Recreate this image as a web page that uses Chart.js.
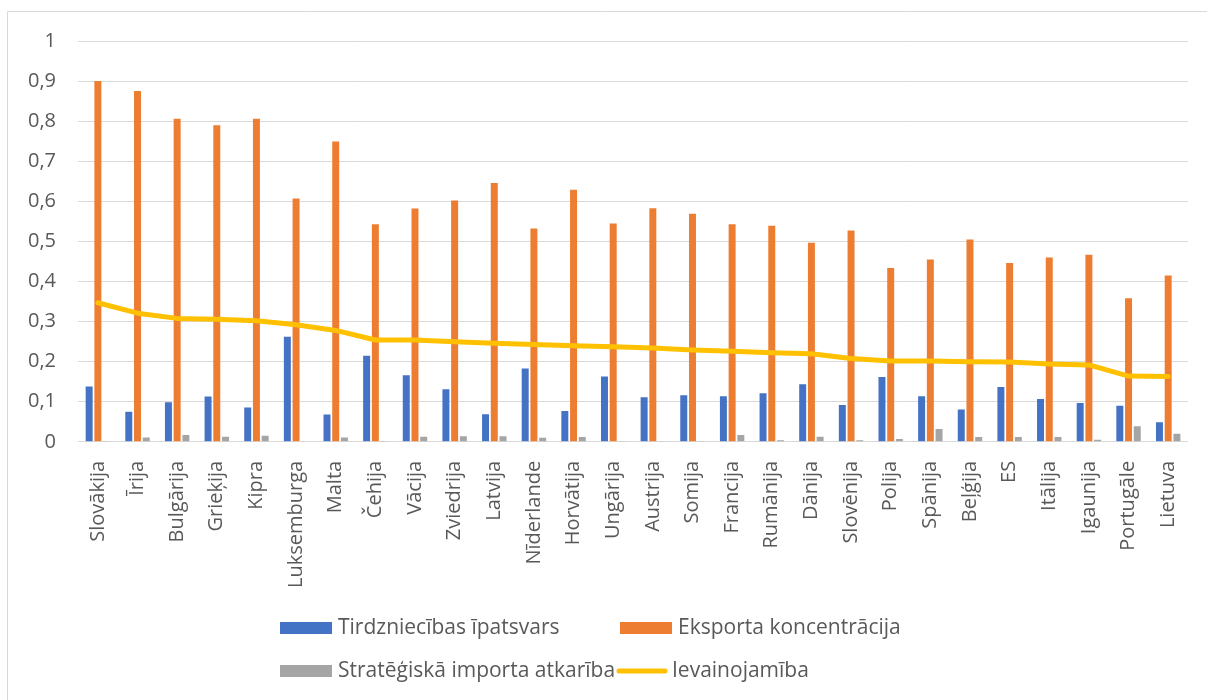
<!DOCTYPE html>
<html>
<head>
<meta charset="utf-8">
<script src="https://cdn.jsdelivr.net/npm/chart.js@4.4.1/dist/chart.umd.min.js"></script>
<style>
  html, body { margin: 0; padding: 0; background: #fff; }
  #wrap { position: relative; width: 1207px; height: 700px; }
</style>
</head>
<body>
<div id="wrap"><canvas id="c" width="1207" height="700"></canvas></div>
<script>
const categories = ['Slovākija','Īrija','Bulgārija','Grieķija','Kipra','Luksemburga','Malta','Čehija','Vācija','Zviedrija','Latvija','Nīderlande','Horvātija','Ungārija','Austrija','Somija','Francija','Rumānija','Dānija','Slovēnija','Polija','Spānija','Beļģija','ES','Itālija','Igaunija','Portugāle','Lietuva'];
const tirdzniecibasIpatsvars = [0.138,0.075,0.099,0.113,0.086,0.262,0.068,0.215,0.166,0.131,0.069,0.183,0.077,0.163,0.111,0.116,0.114,0.121,0.144,0.092,0.162,0.114,0.081,0.137,0.107,0.097,0.090,0.049];
const eksportaKoncentracija = [0.900,0.875,0.806,0.790,0.806,0.607,0.749,0.543,0.582,0.602,0.646,0.532,0.629,0.545,0.583,0.569,0.543,0.539,0.497,0.527,0.434,0.455,0.505,0.446,0.460,0.467,0.358,0.415];
const strategiskaImportaAtkariba = [0.002,0.011,0.017,0.013,0.015,0.000,0.011,0.002,0.013,0.014,0.014,0.010,0.012,0.001,0.002,0.001,0.017,0.004,0.013,0.004,0.007,0.032,0.012,0.012,0.012,0.005,0.039,0.020];
const ievainojamiba = [0.347,0.321,0.308,0.306,0.302,0.292,0.278,0.254,0.254,0.250,0.246,0.243,0.240,0.237,0.234,0.229,0.226,0.222,0.220,0.208,0.202,0.202,0.200,0.199,0.194,0.192,0.164,0.163];
const seriesNames = ['Tirdzniecības īpatsvars','Eksporta koncentrācija','Stratēģiskā importa atkarība','Ievainojamība'];
const yMin = 0, yMax = 1, yStep = 0.1;

const FONT = "'Open Sans', 'DejaVu Sans', sans-serif";
const TEXT = '#595959';

const framePlugin = {
  id: 'frame',
  beforeDraw(chart) {
    const ctx = chart.ctx;
    ctx.save();
    ctx.fillStyle = '#fff';
    ctx.fillRect(0, 0, chart.width, chart.height);
    ctx.strokeStyle = '#D9D9D9';
    ctx.lineWidth = 1;
    ctx.beginPath();
    ctx.moveTo(7.5, chart.height + 5);
    ctx.lineTo(7.5, 11.5);
    ctx.lineTo(chart.width + 5, 11.5);
    ctx.stroke();
    ctx.restore();
  }
};

const legendPlugin = {
  id: 'customLegend',
  afterDraw(chart) {
    const ctx = chart.ctx;
    const ds = chart.data.datasets;
    const items = [
      {i: 0, x: 280, y: 628},
      {i: 1, x: 620, y: 628},
      {i: 2, x: 280, y: 671},
      {i: 3, x: 616, y: 671}
    ];
    ctx.save();
    ctx.font = '21px ' + FONT;
    ctx.textBaseline = 'middle';
    ctx.fillStyle = TEXT;
    items.forEach(it => {
      const d = ds[it.i];
      if (d.type === 'line') {
        ctx.strokeStyle = d.borderColor;
        ctx.lineWidth = 5;
        ctx.lineCap = 'round';
        ctx.beginPath();
        ctx.moveTo(it.x + 3, it.y);
        ctx.lineTo(it.x + 49, it.y);
        ctx.stroke();
        ctx.fillStyle = TEXT;
        ctx.fillText(d.label, it.x + 56, it.y);
      } else {
        ctx.fillStyle = d.backgroundColor;
        ctx.fillRect(it.x, it.y - 6, 52, 12);
        ctx.fillStyle = TEXT;
        ctx.fillText(d.label, it.x + 58, it.y);
      }
    });
    ctx.restore();
  }
};

new Chart(document.getElementById('c'), {
  data: {
    labels: categories,
    datasets: [
      { type: 'bar', label: seriesNames[0], data: tirdzniecibasIpatsvars, backgroundColor: '#4472C4', order: 1 },
      { type: 'bar', label: seriesNames[1], data: eksportaKoncentracija, backgroundColor: '#ED7D31', order: 1 },
      { type: 'bar', label: seriesNames[2], data: strategiskaImportaAtkariba, backgroundColor: '#A5A5A5', order: 1 },
      { type: 'line', label: seriesNames[3], data: ievainojamiba, borderColor: '#FFC000', backgroundColor: '#FFC000',
        borderWidth: 5, pointRadius: 0, tension: 0, borderCapStyle: 'round', borderJoinStyle: 'round', order: 0 }
    ]
  },
  options: {
    responsive: false,
    animation: false,
    devicePixelRatio: 1,
    datasets: { bar: { categoryPercentage: 0.66, barPercentage: 0.8 } },
    layout: { padding: { left: 6, right: 19, top: 41, bottom: 93 } },
    plugins: { legend: { display: false }, tooltip: { enabled: false } },
    scales: {
      x: {
        afterFit: s => { s.paddingRight = 0; s.paddingLeft = 0; },
        grid: { display: false, drawTicks: false },
        border: { display: false },
        ticks: { color: TEXT, font: { family: FONT, size: 20 }, maxRotation: 90, minRotation: 90, autoSkip: false, padding: 19 }
      },
      y: {
        min: yMin, max: yMax,
        grid: { color: '#D9D9D9', lineWidth: 1, drawTicks: false },
        border: { display: false },
        ticks: {
          stepSize: yStep, color: TEXT, font: { family: FONT, size: 20 }, padding: 22,
          callback: v => { const r = Math.round(v * 10) / 10; return (r === 0 || r === 1) ? String(r) : r.toFixed(1).replace('.', ','); }
        }
      }
    }
  },
  plugins: [framePlugin, legendPlugin]
});
</script>
</body>
</html>
